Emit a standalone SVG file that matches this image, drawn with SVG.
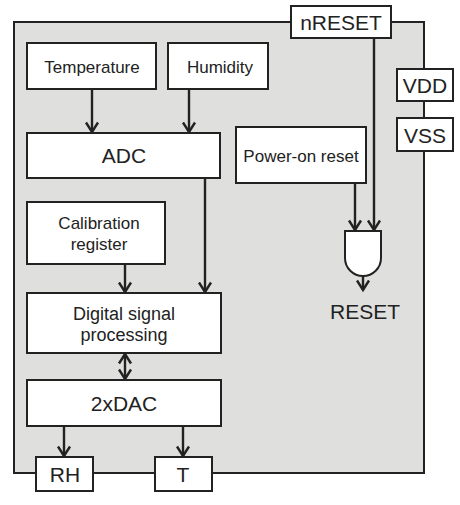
<svg xmlns="http://www.w3.org/2000/svg" width="460" height="505" viewBox="0 0 460 505">
<defs>
<marker id="ah" viewBox="0 0 10 12" refX="9.5" refY="6" markerWidth="10" markerHeight="12" markerUnits="userSpaceOnUse" orient="auto-start-reverse" overflow="visible">
<path d="M0,0 L9.5,6 L0,12" fill="none" stroke="#222" stroke-width="2.4"/>
</marker>
</defs>
<style>
.box{fill:#fff;stroke:#222;stroke-width:2}
.chip{fill:#dfdfde;stroke:#222;stroke-width:2}
.ln{fill:none;stroke:#222;stroke-width:2.4}
text{font-family:"Liberation Sans",Arial,sans-serif;fill:#222;text-anchor:middle}
.big{font-size:21px}
.sm{font-size:17px}
</style>
<rect x="0" y="0" width="460" height="505" fill="#fff"/>
<g id="chip"><rect class="chip" x="14" y="22" width="410" height="451"/></g>
<g id="connectors">
<line class="ln" x1="92" y1="89" x2="92" y2="132" marker-end="url(#ah)"/>
<line class="ln" x1="189" y1="89" x2="189" y2="132" marker-end="url(#ah)"/>
<line class="ln" x1="205" y1="178" x2="205" y2="292" marker-end="url(#ah)"/>
<line class="ln" x1="125" y1="264" x2="125" y2="292" marker-end="url(#ah)"/>
<line class="ln" x1="125" y1="354" x2="125" y2="379" marker-start="url(#ah)" marker-end="url(#ah)"/>
<line class="ln" x1="64" y1="426" x2="64" y2="456" marker-end="url(#ah)"/>
<line class="ln" x1="183" y1="426" x2="183" y2="456" marker-end="url(#ah)"/>
<line class="ln" x1="355" y1="183" x2="355" y2="230" marker-end="url(#ah)"/>
<line class="ln" x1="374" y1="38" x2="374" y2="230" marker-end="url(#ah)"/>
<line class="ln" x1="363" y1="276" x2="363" y2="290" marker-end="url(#ah)"/>
</g>
<g id="nreset"><rect class="box" x="291" y="6" width="100" height="32"/><text class="big" x="341" y="30">nRESET</text></g>
<g id="temperature"><rect class="box" x="27" y="43" width="129" height="46"/><text class="sm" x="92" y="73">Temperature</text></g>
<g id="humidity"><rect class="box" x="168" y="43" width="100" height="46"/><text class="sm" x="220" y="73">Humidity</text></g>
<g id="adc"><rect class="box" x="27" y="133" width="193" height="45"/><text class="big" x="124" y="163">ADC</text></g>
<g id="por"><rect class="box" x="236" y="127" width="130" height="56"/><text class="sm" x="301" y="162">Power-on reset</text></g>
<g id="vdd"><rect class="box" x="397" y="69" width="56" height="32"/><text class="big" x="425" y="93">VDD</text></g>
<g id="vss"><rect class="box" x="397" y="118" width="56" height="33"/><text class="big" x="425" y="143">VSS</text></g>
<g id="calib"><rect class="box" x="27" y="202" width="138" height="62"/><text class="sm" x="99" y="229">Calibration</text><text class="sm" x="99" y="250">register</text></g>
<g id="dsp"><rect class="box" x="27" y="293" width="194" height="60"/><text class="sm" x="124" y="320" style="font-size:18px">Digital signal</text><text class="sm" x="124" y="341" style="font-size:18px">processing</text></g>
<g id="dac"><rect class="box" x="27" y="380" width="194" height="46"/><text class="big" x="124" y="411">2xDAC</text></g>
<g id="rh"><rect class="box" x="36" y="457" width="57" height="34"/><text class="big" x="65" y="482">RH</text></g>
<g id="t"><rect class="box" x="155" y="457" width="57" height="34"/><text class="big" x="183" y="482">T</text></g>
<g id="andgate"><path class="box" d="M345,231 H381 V258 A18,18 0 0 1 345,258 Z"/></g>
<g id="reset"><text class="big" x="365" y="319">RESET</text></g>
</svg>
